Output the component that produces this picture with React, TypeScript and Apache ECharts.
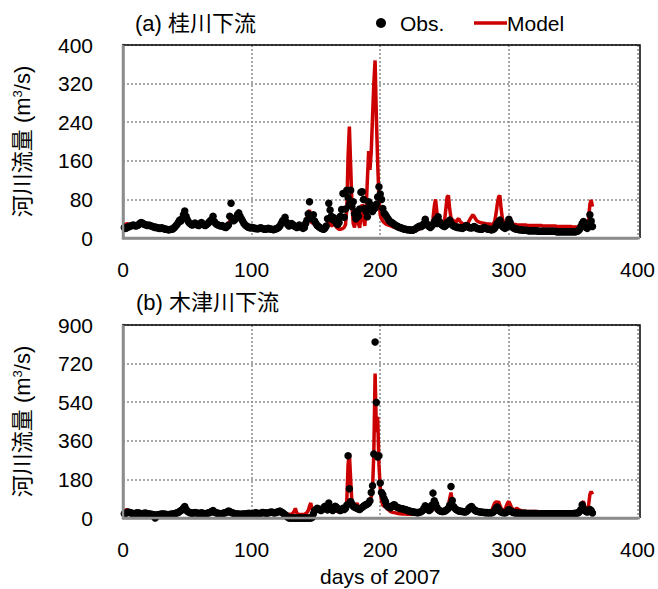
import React, { useEffect, useRef } from "react";
import * as echarts from "echarts";

// ---------- data (daily values, day 1..365) ----------
const titleA = "(a) 桂川下流";
const titleB = "(b) 木津川下流";
const yAxisName = "河川流量 (m{sup|3}/s)";
const xAxisName = "days of 2007";
const legendObs = "Obs.";
const legendModel = "Model";
const xMin = 0, xMax = 400, xStep = 100;
const yMaxA = 400, yStepA = 80;
const yMaxB = 900, yStepB = 180;

const aObs = [
  22, 20, 21, 23, 24, 25, 26, 27, 26, 25,
  26, 27, 30, 32, 31, 29, 28, 27, 26, 27,
  26, 25, 24, 23, 22, 22, 21, 20, 20, 21,
  20, 19, 18, 18, 17, 17, 18, 18, 19, 22,
  25, 28, 32, 37, 35, 40, 48, 56, 45, 38,
  33, 30, 28, 27, 29, 31, 28, 27, 26, 30,
  32, 29, 27, 26, 28, 30, 33, 36, 38, 45,
  34, 30, 28, 27, 26, 25, 26, 24, 23, 22,
  24, 27, 45, 72, 40, 36, 38, 42, 48, 52,
  45, 40, 35, 30, 27, 25, 23, 22, 21, 22,
  21, 20, 20, 19, 19, 20, 21, 20, 19, 18,
  18, 19, 20, 19, 18, 18, 17, 18, 19, 20,
  22, 25, 30, 35, 38, 43, 33, 28, 25, 27,
  30, 28, 25, 24, 22, 23, 27, 24, 22, 20,
  22, 30, 37, 50, 75, 45, 40, 48, 35, 30,
  26, 24, 22, 20, 19, 18, 20, 25, 40, 72,
  58, 45, 38, 42, 35, 30, 28, 32, 45, 59,
  92, 43, 60, 99, 84, 70, 99, 65, 75, 50,
  40, 55, 45, 60, 95, 96, 80, 61, 55, 44,
  75, 70, 65, 55, 60, 62, 70, 85, 106, 91,
  80, 61, 52, 48, 44, 40, 36, 33, 32, 30,
  28, 26, 25, 23, 22, 21, 20, 19, 18, 18,
  17, 17, 17, 16, 16, 17, 18, 20, 22, 24,
  25, 24, 26, 30, 39, 30, 26, 24, 22, 25,
  28, 33, 38, 30, 44, 34, 30, 27, 25, 24,
  26, 32, 30, 37, 30, 27, 25, 24, 23, 22,
  22, 21, 21, 20, 22, 24, 26, 24, 22, 21,
  21, 22, 24, 22, 20, 19, 19, 18, 18, 20,
  22, 20, 19, 18, 18, 17, 17, 18, 20, 25,
  30, 33, 37, 28, 24, 22, 20, 22, 30, 39,
  32, 25, 22, 20, 19, 18, 18, 17, 17, 17,
  16, 16, 16, 16, 15, 15, 15, 15, 15, 15,
  15, 15, 14, 14, 14, 14, 14, 14, 14, 14,
  14, 14, 14, 14, 14, 14, 13, 13, 13, 13,
  13, 13, 13, 13, 13, 13, 13, 13, 13, 13,
  13, 13, 14, 15, 18, 24, 30, 34, 26, 22,
  20, 30, 48, 35, 24,
];

const aMod = [
  24, 28, 30, 29, 27, 26, 26, 27, 27, 26,
  26, 27, 28, 30, 29, 28, 27, 26, 26, 25,
  25, 24, 23, 23, 22, 22, 21, 21, 20, 20,
  20, 19, 19, 18, 18, 18, 18, 19, 20, 22,
  24, 27, 30, 34, 33, 36, 42, 45, 40, 34,
  30, 28, 27, 26, 27, 28, 27, 26, 26, 27,
  29, 28, 27, 26, 27, 28, 30, 32, 34, 36,
  32, 29, 27, 26, 25, 25, 24, 24, 23, 23,
  24, 30, 35, 38, 36, 38, 40, 42, 44, 42,
  40, 37, 33, 30, 27, 25, 24, 23, 22, 22,
  21, 21, 20, 20, 20, 20, 20, 19, 19, 19,
  19, 19, 19, 19, 18, 18, 18, 18, 19, 20,
  22, 26, 30, 33, 32, 34, 30, 27, 26, 30,
  33, 30, 27, 26, 25, 26, 30, 26, 23, 21,
  21, 25, 40, 52, 58, 40, 30, 32, 28, 24,
  22, 20, 20, 19, 19, 19, 20, 24, 30, 35,
  30, 26, 25, 37, 28, 22, 20, 18, 18, 19,
  20, 22, 28, 60, 170, 231, 150, 70, 30, 22,
  40, 55, 30, 21, 45, 70, 40, 25, 60, 120,
  180, 141, 178, 250, 320, 368, 250, 155, 83, 48,
  40, 35, 32, 30, 28, 27, 26, 25, 24, 23,
  22, 21, 20, 19, 19, 18, 18, 18, 17, 17,
  17, 17, 17, 17, 17, 17, 17, 18, 18, 18,
  19, 20, 22, 25, 30, 28, 24, 22, 21, 25,
  40, 65, 80, 55, 30, 26, 24, 23, 25, 35,
  60, 85, 88, 60, 42, 38, 36, 34, 33, 38,
  40, 35, 32, 30, 29, 28, 28, 30, 35, 40,
  44, 48, 45, 40, 36, 34, 33, 32, 31, 31,
  30, 30, 29, 29, 29, 28, 28, 30, 35, 50,
  70, 85, 88, 60, 40, 33, 30, 29, 28, 30,
  32, 30, 29, 28, 28, 27, 27, 27, 27, 27,
  27, 27, 27, 26, 26, 26, 26, 26, 26, 26,
  26, 26, 26, 26, 26, 25, 25, 25, 25, 25,
  25, 25, 25, 25, 25, 25, 24, 24, 24, 24,
  24, 24, 24, 24, 24, 24, 24, 24, 23, 23,
  23, 23, 23, 23, 24, 25, 27, 30, 28, 26,
  25, 40, 70, 79, 65,
];

const bObs = [
  20, 22, 25, 28, 26, 24, 22, 21, 20, 22,
  24, 23, 22, 20, 19, 21, 23, 22, 20, 19,
  18, 17, 16, 15, 0, 14, 15, 16, 17, 18,
  19, 18, 17, 16, 15, 16, 17, 18, 19, 20,
  22, 24, 26, 30, 35, 38, 45, 54, 40, 32,
  28, 25, 23, 22, 24, 26, 24, 22, 21, 22,
  24, 22, 21, 20, 21, 23, 25, 27, 30, 35,
  28, 25, 23, 22, 21, 20, 21, 22, 24, 26,
  28, 33, 30, 26, 24, 22, 20, 19, 18, 18,
  17, 17, 18, 18, 19, 20, 21, 22, 20, 19,
  20, 22, 24, 23, 21, 20, 22, 25, 26, 24,
  23, 22, 24, 26, 28, 27, 25, 24, 26, 28,
  30, 32, 28, 25, 20, 15, 10, 5, 0, 0,
  0, 0, 0, 0, 0, 0, 0, 0, 0, 0,
  0, 0, 0, 0, 0, 0, 2, 20, 35, 40,
  45, 42, 38, 35, 40, 48, 55, 45, 38, 70,
  50, 40, 35, 45, 55, 50, 42, 38, 35, 40,
  45, 40, 46, 60, 290, 136, 77, 65, 55, 50,
  48, 45, 42, 40, 45, 50, 55, 60, 62, 65,
  70, 80, 119, 150, 299, 821, 539, 285, 290, 163,
  119, 108, 90, 77, 60, 54, 50, 48, 55, 60,
  62, 55, 50, 48, 45, 44, 43, 42, 40, 38,
  36, 34, 32, 30, 29, 28, 27, 26, 25, 26,
  28, 30, 35, 45, 57, 50, 40, 35, 40, 60,
  116, 80, 67, 50, 40, 35, 32, 30, 30, 32,
  35, 40, 45, 60, 147, 82, 54, 45, 40, 36,
  33, 32, 31, 30, 29, 28, 30, 35, 45, 50,
  54, 45, 38, 34, 32, 30, 29, 28, 27, 27,
  26, 25, 25, 24, 24, 24, 25, 28, 35, 45,
  51, 40, 32, 28, 26, 25, 24, 26, 32, 40,
  35, 30, 27, 25, 24, 23, 23, 22, 22, 22,
  22, 22, 22, 21, 21, 21, 21, 21, 21, 21,
  21, 20, 20, 20, 20, 20, 20, 20, 20, 20,
  20, 20, 20, 20, 20, 20, 20, 20, 20, 20,
  20, 20, 20, 20, 20, 20, 20, 20, 20, 21,
  21, 22, 23, 25, 30, 40, 62, 45, 35, 30,
  28, 32, 40, 35, 23,
];

const bMod = [
  25, 35, 40, 32, 28, 25, 23, 22, 22, 23,
  24, 23, 22, 21, 20, 22, 23, 22, 21, 20,
  19, 18, 18, 17, 17, 16, 16, 17, 18, 18,
  19, 18, 17, 17, 16, 17, 18, 19, 20, 21,
  22, 24, 26, 30, 34, 36, 40, 45, 38, 30,
  27, 25, 23, 22, 23, 25, 24, 22, 21, 22,
  23, 22, 21, 20, 21, 23, 25, 27, 30, 32,
  27, 25, 23, 22, 21, 21, 21, 22, 23, 25,
  27, 30, 28, 26, 24, 22, 21, 20, 19, 19,
  18, 18, 19, 19, 20, 21, 22, 22, 21, 20,
  20, 21, 23, 23, 22, 21, 22, 24, 25, 24,
  23, 22, 23, 25, 26, 26, 25, 24, 25, 27,
  28, 30, 28, 25, 22, 20, 19, 18, 17, 17,
  18, 22, 30, 45, 25, 18, 17, 16, 16, 17,
  18, 20, 25, 35, 55, 70, 40, 30, 40, 50,
  45, 38, 33, 30, 35, 40, 38, 32, 30, 40,
  38, 32, 28, 30, 35, 33, 30, 28, 30, 35,
  40, 35, 40, 80, 250, 302, 180, 70, 50, 45,
  55, 70, 45, 40, 38, 40, 45, 50, 55, 60,
  65, 75, 100, 130, 300, 674, 400, 472, 250, 140,
  80, 60, 55, 54, 45, 40, 35, 30, 28, 26,
  25, 24, 22, 21, 20, 20, 19, 19, 19, 18,
  18, 18, 18, 18, 18, 19, 20, 21, 22, 24,
  26, 28, 30, 35, 40, 35, 30, 32, 40, 55,
  65, 50, 40, 34, 30, 28, 27, 26, 28, 32,
  38, 45, 60, 90, 119, 80, 50, 40, 36, 34,
  32, 31, 30, 30, 31, 33, 38, 45, 55, 60,
  62, 55, 45, 40, 36, 34, 33, 32, 31, 31,
  30, 30, 30, 30, 31, 33, 40, 55, 70, 75,
  72, 77, 60, 45, 38, 35, 40, 55, 70, 77,
  65, 50, 42, 38, 40, 45, 42, 38, 35, 33,
  32, 31, 31, 30, 30, 30, 30, 30, 30, 30,
  30, 30, 29, 29, 29, 29, 29, 29, 29, 29,
  29, 29, 29, 29, 28, 28, 28, 28, 28, 28,
  28, 28, 28, 28, 28, 28, 28, 28, 28, 28,
  28, 28, 28, 29, 35, 50, 70, 77, 50, 35,
  30, 60, 110, 124, 110,
];

// ---------- layout ----------
const W = 658, H = 589;
const L = 123, R = 18;
const TOP_A = 45, H_A = 193;
const TOP_B = 325, H_B = 193;
const FONT = "'Liberation Sans', Arial, 'Noto Sans CJK JP', sans-serif";
const RED = "#cc0000";
const AXIS_GRAY = "#8c8c8c";

const toPairs = (arr: number[]) => arr.map((v, i) => [i + 1, v]);

function buildOption() {
  const labelStyle = { color: "#000", fontSize: 21, fontFamily: FONT };
  const split = { show: true, lineStyle: { color: "#8c8c8c", width: 1.5, type: [2, 2] } };
  const makeX = (gridIndex: number, withName: boolean) => ({
    type: "value",
    gridIndex,
    min: xMin,
    max: xMax,
    interval: xStep,
    axisLine: { show: true, onZero: false, lineStyle: { color: AXIS_GRAY, width: 2.5 } },
    axisTick: { show: false },
    axisLabel: { ...labelStyle, margin: 21, showMinLabel: true, showMaxLabel: true },
    splitLine: split,
    name: withName ? xAxisName : "",
    nameLocation: "middle",
    nameGap: 48,
    nameTextStyle: { color: "#000", fontSize: 21, fontFamily: FONT },
  });
  const makeY = (gridIndex: number, max: number, interval: number) => ({
    type: "value",
    gridIndex,
    min: 0,
    max,
    interval,
    axisLine: { show: true, onZero: false, lineStyle: { color: AXIS_GRAY, width: 2.5 } },
    axisTick: { show: false },
    axisLabel: { ...labelStyle, margin: 30, showMinLabel: true, showMaxLabel: true },
    splitLine: split,
    name: yAxisName,
    nameLocation: "middle",
    nameRotate: 90,
    nameGap: 90,
    nameTextStyle: {
      color: "#000",
      fontSize: 22,
      fontFamily: FONT,
      rich: {
        sup: { fontSize: 13, fontFamily: FONT, color: "#000", verticalAlign: "top" },
      },
    },
  });

  const border = (top: number, h: number) => ({
    type: "polyline",
    z: 100,
    silent: true,
    shape: {
      points: [
        [L, top + h],
        [L, top],
        [W - R, top],
        [W - R, top + h],
      ],
    },
    style: { stroke: "#000", lineWidth: 1.5, fill: null },
  });

  const scatterStyle = { color: "#000", opacity: 1 };

  return {
    animation: false,
    backgroundColor: "#fff",
    grid: [
      { left: L, right: R, top: TOP_A, height: H_A },
      { left: L, right: R, top: TOP_B, height: H_B },
    ],
    xAxis: [makeX(0, false), makeX(1, true)],
    yAxis: [makeY(0, yMaxA, yStepA), makeY(1, yMaxB, yStepB)],
    series: [
      {
        type: "line",
        xAxisIndex: 0,
        yAxisIndex: 0,
        data: toPairs(aMod),
        showSymbol: false,
        lineStyle: { color: RED, width: 3.5 },
        itemStyle: { color: RED },
        z: 2,
      },
      {
        type: "scatter",
        xAxisIndex: 0,
        yAxisIndex: 0,
        data: toPairs(aObs),
        symbolSize: 7.5,
        itemStyle: scatterStyle,
        z: 3,
      },
      {
        type: "line",
        xAxisIndex: 1,
        yAxisIndex: 1,
        data: toPairs(bMod),
        showSymbol: false,
        lineStyle: { color: RED, width: 3.5 },
        itemStyle: { color: RED },
        z: 2,
      },
      {
        type: "scatter",
        xAxisIndex: 1,
        yAxisIndex: 1,
        data: toPairs(bObs),
        symbolSize: 7.5,
        itemStyle: scatterStyle,
        z: 3,
      },
    ],
    graphic: [
      border(TOP_A, H_A),
      border(TOP_B, H_B),
      {
        type: "polyline",
        z: 101,
        silent: true,
        shape: { points: [[L, TOP_A], [L, TOP_A + H_A], [W - R, TOP_A + H_A]] },
        style: { stroke: AXIS_GRAY, lineWidth: 2.5, fill: null },
      },
      {
        type: "polyline",
        z: 101,
        silent: true,
        shape: { points: [[L, TOP_B], [L, TOP_B + H_B], [W - R, TOP_B + H_B]] },
        style: { stroke: AXIS_GRAY, lineWidth: 2.5, fill: null },
      },
      {
        type: "text",
        x: 135,
        y: 23,
        style: { text: titleA, fontSize: 22, fontFamily: FONT, fill: "#000", align: "left", verticalAlign: "middle" },
      },
      {
        type: "text",
        x: 136,
        y: 302,
        style: { text: titleB, fontSize: 22, fontFamily: FONT, fill: "#000", align: "left", verticalAlign: "middle" },
      },
      { type: "circle", shape: { cx: 381, cy: 23, r: 5 }, style: { fill: "#000" } },
      {
        type: "text",
        x: 400,
        y: 23,
        style: { text: legendObs, fontSize: 21, fontFamily: FONT, fill: "#000", align: "left", verticalAlign: "middle" },
      },
      {
        type: "line",
        shape: { x1: 474, y1: 23, x2: 507, y2: 23 },
        style: { stroke: RED, lineWidth: 3.5 },
      },
      {
        type: "text",
        x: 507,
        y: 23,
        style: { text: legendModel, fontSize: 21, fontFamily: FONT, fill: "#000", align: "left", verticalAlign: "middle" },
      },
    ],
  };
}

export default function App() {
  const ref = useRef<HTMLDivElement>(null);
  useEffect(() => {
    document.body.style.margin = "0";
    if (!ref.current) return;
    const chart = echarts.init(ref.current, null, { renderer: "svg" });
    chart.setOption(buildOption() as any);
    return () => chart.dispose();
  }, []);
  return <div ref={ref} style={{ width: W, height: H }} />;
}
